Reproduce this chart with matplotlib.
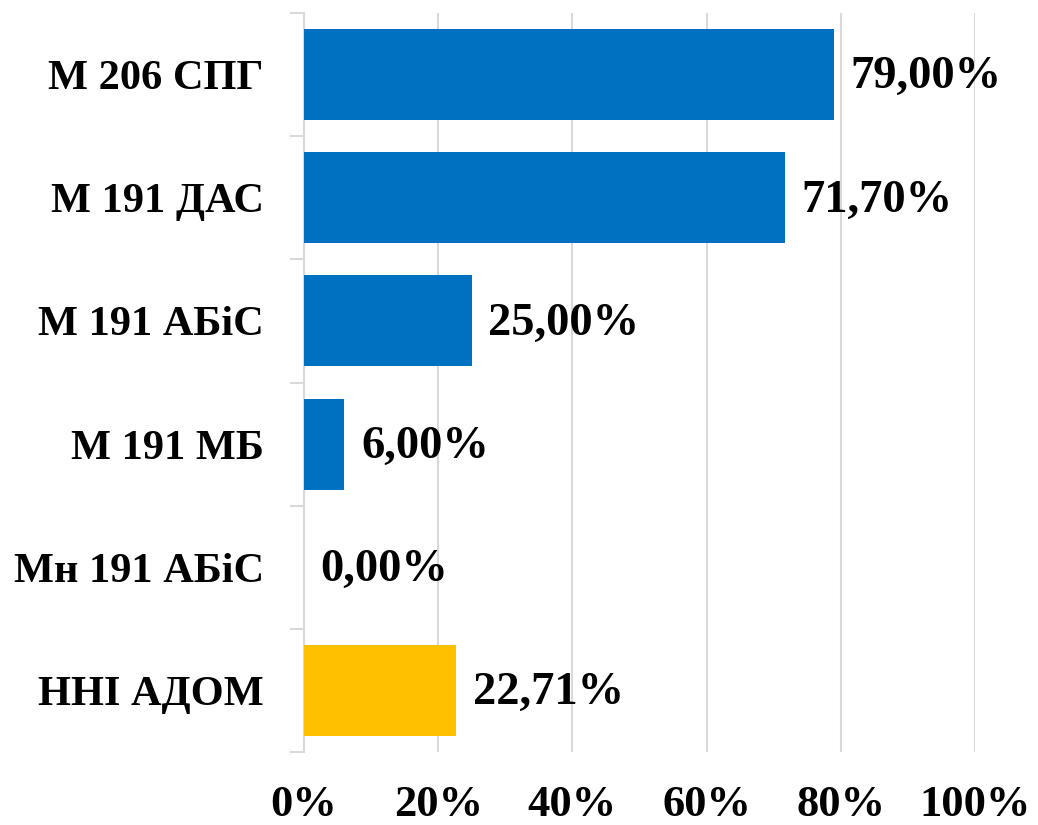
import matplotlib
matplotlib.use("Agg")
import matplotlib.pyplot as plt

categories = ["М 206 СПГ", "М 191 ДАС", "М 191 АБіС", "М 191 МБ", "Мн 191 АБіС", "ННІ АДОМ"]
values = [79.00, 71.70, 25.00, 6.00, 0.00, 22.71]
colors = ["#0070C0", "#0070C0", "#0070C0", "#0070C0", "#0070C0", "#FFC000"]
xticks = [0, 20, 40, 60, 80, 100]
xtick_labels = ["0%", "20%", "40%", "60%", "80%", "100%"]

plt.rcParams['font.family'] = ['Liberation Serif', 'DejaVu Serif']
plt.rcParams['font.weight'] = 'bold'

fig = plt.figure(figsize=(10.38, 8.25), dpi=100)
ax = fig.add_axes([304/1038, 73/825, (975-304)/1038, (752-13)/825])

y = list(range(len(categories)))
ax.barh(y, values, height=0.74, color=colors, zorder=3)
ax.set_ylim(len(categories) - 0.5, -0.5)
ax.set_xlim(0, 100)

for yi, v in zip(y, values):
    ax.annotate(f"{v:.2f}%".replace(".", ","), xy=(v, yi), xytext=(12, -2),
                textcoords="offset points", va="center", ha="left",
                fontsize=33.5, fontweight="bold", color="black", zorder=4)

ax.set_xticks(xticks)
ax.set_xticklabels(xtick_labels, fontsize=32, fontweight="bold")
ax.tick_params(axis='x', length=0, pad=24)
ax.grid(axis='x', color='#d9d9d9', linewidth=1.5, zorder=0)

# category boundary ticks
ax.set_yticks([i - 0.5 for i in range(len(categories) + 1)], minor=False)
ax.set_yticklabels([])
ax.set_yticks(y, minor=True)
ax.set_yticklabels(categories, minor=True, fontsize=30.5, fontweight="bold")
ax.tick_params(axis='y', which='major', length=10, color='#d9d9d9', width=1.5, direction='out')
ax.tick_params(axis='y', which='minor', length=0, pad=29)

for s in ['top', 'right', 'bottom']:
    ax.spines[s].set_visible(False)
ax.spines['left'].set_color('#d9d9d9')
ax.spines['left'].set_linewidth(1.5)

fig.savefig("out.png", dpi=100, facecolor="white")
